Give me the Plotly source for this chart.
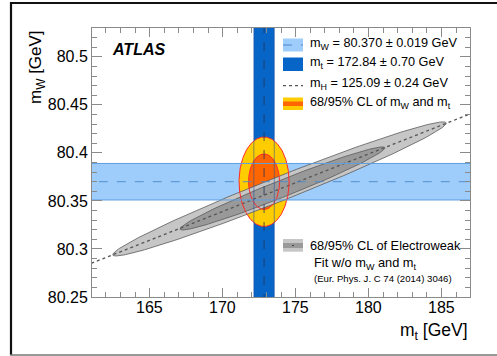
import numpy as np
import plotly.graph_objects as go

# ---------------- data ----------------
mw_val, mw_err = 80.370, 0.019
mt_val, mt_err = 172.84, 0.70
mw_label = "m<sub>W</sub> = 80.370 ± 0.019 GeV"
mt_label = "m<sub>t</sub> = 172.84 ± 0.70 GeV"
mh_label = "m<sub>H</sub> = 125.09 ± 0.24 GeV"
cl_label = "68/95% CL of m<sub>W</sub> and m<sub>t</sub>"
ew_label1 = "68/95% CL of Electroweak"
ew_label2 = "Fit w/o m<sub>W</sub> and m<sub>t</sub>"
ew_ref = "(Eur. Phys. J. C 74 (2014) 3046)"

# Higgs-mass line of the EW fit (mt, mW)
higgs_mt = [161.0, 187.0]
higgs_mw = [80.2851, 80.4408]

# CL contour scale factors (95%, 68%) for the direct measurement
cl_scales = [2.45, 1.52]

# EW fit contours (95%, 68%): centre, half length in mt, slope, half width in mW
ew_center_mt = [173.90, 174.10]
ew_center_mw = [80.3625, 80.3630]
ew_half_mt = [11.43, 7.02]
ew_slope = [0.00599, 0.00601]
ew_half_mw = [0.0135, 0.0095]

x_range = [161.05, 186.95]
y_range = [80.25, 80.53]
x_ticks = [165, 170, 175, 180, 185]
x_ticktext = ["165", "170", "175", "180", "185"]
y_ticks = [80.25, 80.30, 80.35, 80.40, 80.45, 80.50]
y_ticktext = ["80.25", "80.3", "80.35", "80.4", "80.45", "80.5"]

# ---------------- layout geometry ----------------
W, H = 497, 356
ML, MR, MT, MB = 92, 27, 28, 59
PW, PH = W - ML - MR, H - MT - MB


def px(x):
    return (x - ML) / PW


def py(y):
    return (H - MB - y) / PH


FONT = "Liberation Sans, Arial, Helvetica, sans-serif"

fig = go.Figure()
t = np.linspace(0, 2 * np.pi, 241)

# bands
xl, xh = x_range[0] - 2, x_range[1] + 2
yl, yh = y_range[0] - 0.1, y_range[1] + 0.1
fig.add_trace(go.Scatter(
    x=[xl, xh, xh, xl, xl],
    y=[mw_val - mw_err, mw_val - mw_err, mw_val + mw_err, mw_val + mw_err, mw_val - mw_err],
    fill="toself", fillcolor="#9fcdfb", line=dict(width=0), mode="lines", hoverinfo="skip"))
fig.add_trace(go.Scatter(
    x=[mt_val - mt_err, mt_val + mt_err, mt_val + mt_err, mt_val - mt_err, mt_val - mt_err],
    y=[yl, yl, yh, yh, yl],
    fill="toself", fillcolor="#0865c8", line=dict(width=0), mode="lines", hoverinfo="skip"))

# direct measurement CL fills
cl_colors = ["#ffcc00", "#ff6600"]
for k, c in zip(cl_scales, cl_colors):
    fig.add_trace(go.Scatter(
        x=mt_val + k * mt_err * np.cos(t), y=mw_val + k * mw_err * np.sin(t),
        fill="toself", fillcolor=c, line=dict(width=0), mode="lines", hoverinfo="skip"))

# EW fit contours
ew_colors = ["#c6c6c6", "#999999"]
for cx, cy, a, s, b, c in zip(ew_center_mt, ew_center_mw, ew_half_mt, ew_slope, ew_half_mw, ew_colors):
    fig.add_trace(go.Scatter(
        x=cx + a * np.cos(t), y=cy + a * s * np.cos(t) + b * np.sin(t),
        fill="toself", fillcolor=c, line=dict(width=0.8, color="#5a5a5a"),
        mode="lines", hoverinfo="skip"))

# Higgs line
fig.add_trace(go.Scatter(x=higgs_mt, y=higgs_mw, mode="lines",
                         line=dict(color="#555555", width=1.3, dash="dot"), hoverinfo="skip"))

# red outlines
for k in cl_scales:
    fig.add_trace(go.Scatter(
        x=mt_val + k * mt_err * np.cos(t), y=mw_val + k * mw_err * np.sin(t),
        mode="lines", line=dict(color="#ff2a2a", width=1), hoverinfo="skip"))

# band edges and centre lines
for yv in [mw_val - mw_err, mw_val + mw_err]:
    fig.add_trace(go.Scatter(x=[xl, xh], y=[yv, yv], mode="lines",
                             line=dict(color="#5d9fe0", width=1), hoverinfo="skip"))
fig.add_trace(go.Scatter(x=[xl, xh], y=[mw_val, mw_val], mode="lines",
                         line=dict(color="#4a88c8", width=0.9, dash="dash"), hoverinfo="skip"))
for xv in [mt_val - mt_err, mt_val + mt_err]:
    fig.add_trace(go.Scatter(x=[xv, xv], y=[yl, yh], mode="lines",
                             line=dict(color="rgba(40,80,150,0.7)", width=0.8), hoverinfo="skip"))
fig.add_trace(go.Scatter(x=[mt_val, mt_val], y=[yl, yh], mode="lines",
                         line=dict(color="#223355", width=0.8, dash="dash"), hoverinfo="skip"))

# ---------------- legend (drawn manually) ----------------
shapes = []
sx0, sx1 = px(283), px(303)


def box(y0, y1, color):
    shapes.append(dict(type="rect", xref="paper", yref="paper", x0=sx0, x1=sx1,
                       y0=py(y1), y1=py(y0), fillcolor=color, line=dict(width=0), layer="above"))


def hline(y, color, dash, width=1):
    shapes.append(dict(type="line", xref="paper", yref="paper", x0=sx0, x1=sx1,
                       y0=py(y), y1=py(y), line=dict(color=color, dash=dash, width=width), layer="above"))


box(38.5, 51.5, "#9fcdfb")
hline(45, "#4a88c8", "dash")
box(57.5, 71, "#0865c8")
hline(85.7, "#555555", "dot", 1.3)
box(97.5, 110, "#ffcc00")
box(101.5, 106, "#ff6600")
box(239, 251.7, "#c6c6c6")
box(243, 248, "#999999")
shapes.append(dict(type="line", xref="paper", yref="paper", x0=px(292), x1=px(294),
                   y0=py(245.5), y1=py(245.5), line=dict(color="#444", width=1), layer="above"))

# outer frame
shapes.append(dict(type="line", xref="paper", yref="paper", x0=px(11), x1=px(11),
                   y0=py(2), y1=py(355), line=dict(color="#111", width=2.2)))
shapes.append(dict(type="line", xref="paper", yref="paper", x0=px(10), x1=px(497),
                   y0=py(3), y1=py(3), line=dict(color="#111", width=2.2)))
shapes.append(dict(type="line", xref="paper", yref="paper", x0=px(10), x1=px(497),
                   y0=py(355), y1=py(355), line=dict(color="#777", width=1.5)))

ann = []


def text(x, y, s, size=13, anchor="left", **kw):
    ann.append(dict(xref="paper", yref="paper", x=px(x), y=py(y), text=s, showarrow=False,
                    xanchor=anchor, yanchor="middle", font=dict(family=FONT, size=size, color="black"), **kw))


text(308, 44, mw_label, size=12.7)
text(308, 63, mt_label, size=12.7)
text(308, 83.5, mh_label, size=12.7)
text(308, 103, cl_label, size=12.7)
text(308, 245, ew_label1, size=12.8)
text(312, 263, ew_label2, size=12.8)
text(312, 278.5, ew_ref, size=9.6)
text(110, 49, "<b><i>ATLAS</i></b>", size=16)
# x tick labels placed through the x axis scale
for v, s in zip(x_ticks, x_ticktext):
    ann.append(dict(xref="x", yref="paper", x=v, y=py(307.5), text=s, showarrow=False,
                    xanchor="center", yanchor="middle", font=dict(family=FONT, size=16, color="black")))
# axis titles
text(470, 331.5, "m<sub>t</sub> [GeV]", size=17.5, anchor="right")
ann.append(dict(xref="paper", yref="paper", x=px(37), y=1.0, text="m<sub>W</sub> [GeV]",
                showarrow=False, textangle=-90, xanchor="center", yanchor="top",
                font=dict(family=FONT, size=17, color="black")))

axis_common = dict(showgrid=False, zeroline=False, showline=True, linecolor="#8a8a8a", linewidth=1,
                   mirror="allticks", ticks="inside", tickcolor="#8a8a8a",
                   tickfont=dict(family=FONT, size=16, color="black"))

fig.update_layout(
    width=W, height=H, margin=dict(l=ML, r=MR, t=MT, b=MB),
    paper_bgcolor="white", plot_bgcolor="white", showlegend=False,
    shapes=shapes, annotations=ann,
    xaxis=dict(range=x_range, tickmode="array", tickvals=x_ticks, ticklen=9, showticklabels=False,
               minor=dict(tickmode="linear", tick0=0, dtick=1, ticklen=5, ticks="inside", tickcolor="#8a8a8a"),
               **axis_common),
    yaxis=dict(range=y_range, tickmode="array", tickvals=y_ticks, ticktext=y_ticktext, ticklen=10,
               minor=dict(tickmode="linear", tick0=80.25, dtick=0.01, ticklen=5, ticks="inside", tickcolor="#8a8a8a"),
               ticklabelstandoff=0, **axis_common),
)

fig.write_html("out.html")
